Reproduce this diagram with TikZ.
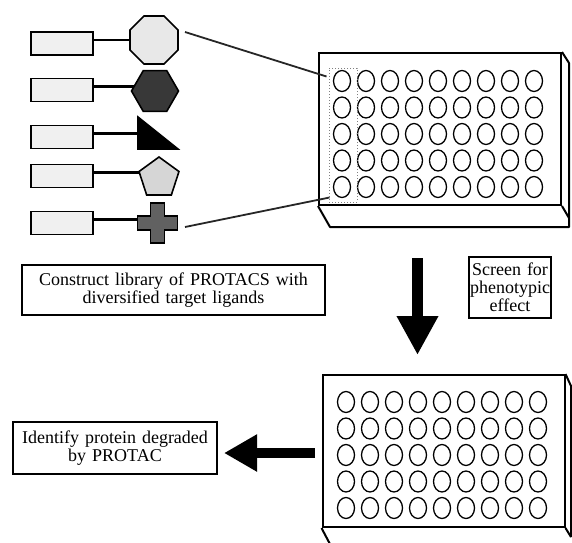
\documentclass[tikz,border=0pt]{standalone}
\usepackage{fontspec}
\setmainfont{Liberation Serif}
\usetikzlibrary{shapes.geometric,arrows.meta,backgrounds,calc}
\begin{document}
\begin{tikzpicture}[x=1pt,y=-1pt,
  ligbox/.style={draw=black,line width=1.8pt,fill=gray!12,minimum width=62pt,minimum height=23pt,inner sep=0pt},
  linker/.style={line width=2.4pt},
  headshape/.style={draw=black,line width=1.6pt,inner sep=0pt},
  headpath/.style={draw=black,line width=1.6pt,line join=miter},
  textbox/.style={draw=black,line width=2pt,inner sep=0pt,align=center,font=\fontsize{18}{18}\selectfont},
  plate/.style={draw=black,line width=2pt,inner sep=0pt,minimum width=242pt,minimum height=152pt},
  edge3d/.style={line width=2pt,line join=round},
  well/.style={line width=1.3pt},
  pointer/.style={line width=1.8pt,draw=black!85},
  selbox/.style={draw=gray,dotted,line width=1pt,inner sep=0pt,minimum width=28pt,minimum height=134pt},
  blockdown/.style={line width=11pt,-{Triangle[length=39pt,width=39pt]}},
  blockleft/.style={line width=10pt,-{Triangle[length=33pt,width=35pt]}},
]
\useasboundingbox (0,0) rectangle (572,542);

% ligand-linker boxes
\node[ligbox] (r1) at (62,43.5) {};
\node[ligbox] (r2) at (62,90) {};
\node[ligbox] (r3) at (62,137) {};
\node[ligbox] (r4) at (62,176) {};
\node[ligbox] (r5) at (62,223) {};

% target ligand heads
\node[headshape,regular polygon,regular polygon sides=8,minimum size=52pt,fill=gray!18] (oct) at (154,40) {};
\node[headshape,regular polygon,regular polygon sides=6,minimum size=47pt,fill=black!78] (hex) at (155,91) {};
\coordinate (tri) at (138,133);
\draw[headpath,fill=black] (tri) ++(0,-16) -- ++(0,32) -- ++(40,0) -- cycle;
\node[headshape,regular polygon,regular polygon sides=5,minimum size=42pt,fill=gray!32] (pent) at (159,178) {};
\coordinate (crs) at (157.5,223);
\draw[headpath,fill=black!62] (crs) ++(-7,-20) -- ++(14,0) -- ++(0,13) -- ++(13,0) -- ++(0,14) -- ++(-13,0) -- ++(0,13) -- ++(-14,0) -- ++(0,-13) -- ++(-13,0) -- ++(0,-14) -- ++(13,0) -- cycle;

% linkers
\coordinate (l1) at ([yshift=3.5pt]r1.east);
\coordinate (l2) at ([yshift=3.5pt]r2.east);
\coordinate (l3) at ([yshift=3.5pt]r3.east);
\coordinate (l4) at ([yshift=3.5pt]r4.east);
\coordinate (l5) at ([yshift=3.5pt]r5.east);
\begin{pgfonlayer}{background}
\draw[linker] (l1) -- (l1 -| oct.center);
\draw[linker] (l2) -- (l2 -| hex.center);
\draw[linker] (l3) -- (l3 -| tri);
\draw[linker] (l4) -- (l4 -| pent.center);
\draw[linker] (l5) -- (l5 -| crs);
\end{pgfonlayer}

% plate 1
\node[plate] (plate1) at (440,129) {};
\draw[edge3d] (plate1.north east) -- (569,63) -- (569,227) -- (330,227) -- (plate1.south west);
\draw[edge3d] (plate1.south east) -- (569,218);
\foreach \i in {0,...,8} \foreach \j in {0,...,4}
  \draw[well] ($(plate1.north west)+(24+24*\i,29+26.5*\j)$) ellipse [x radius=8.5pt, y radius=10.5pt];
\node[selbox] (sel) at (343,135) {};

% pointers from library to plate
\coordinate (p1) at (185,32);
\coordinate (p2) at (185,227);
\draw[pointer] (p1) -- ($(sel.north west)+(-2,9)$);
\draw[pointer] (p2) -- ($(sel.south west)+(1,-5)$);

% text boxes
\node[textbox,text width=303pt,minimum height=50pt] (construct) at (173.5,290) {Construct library of PROTACS with\\diversified target ligands};
\node[textbox,text width=82pt,minimum height=61pt] (screen) at (510,287.5) {Screen for\\phenotypic\\effect};
\node[textbox,text width=204pt,minimum height=52pt] (identify) at (115,448) {Identify protein degraded\\by PROTAC};

% down arrow
\coordinate (dA) at (417.5,258);
\coordinate (dB) at (417.5,355);
\draw[blockdown] (dA) -- (dB);

% plate 2
\node[plate] (plate2) at (443.5,451) {};
\draw[edge3d] (plate2.north east) -- (571,386) -- (571,537);
\draw[edge3d] (plate2.south east) -- (571,537);
\draw[edge3d] (plate2.south west) -- (331,546);
\foreach \i in {0,...,8} \foreach \j in {0,...,4}
  \draw[well] ($(plate2.north west)+(24.5+24*\i,28+26.5*\j)$) ellipse [x radius=8.5pt, y radius=10.5pt];

% left arrow
\coordinate (lA) at (315,453);
\coordinate (lB) at (224,453);
\draw[blockleft] (lA) -- (lB);
\end{tikzpicture}
\end{document}
